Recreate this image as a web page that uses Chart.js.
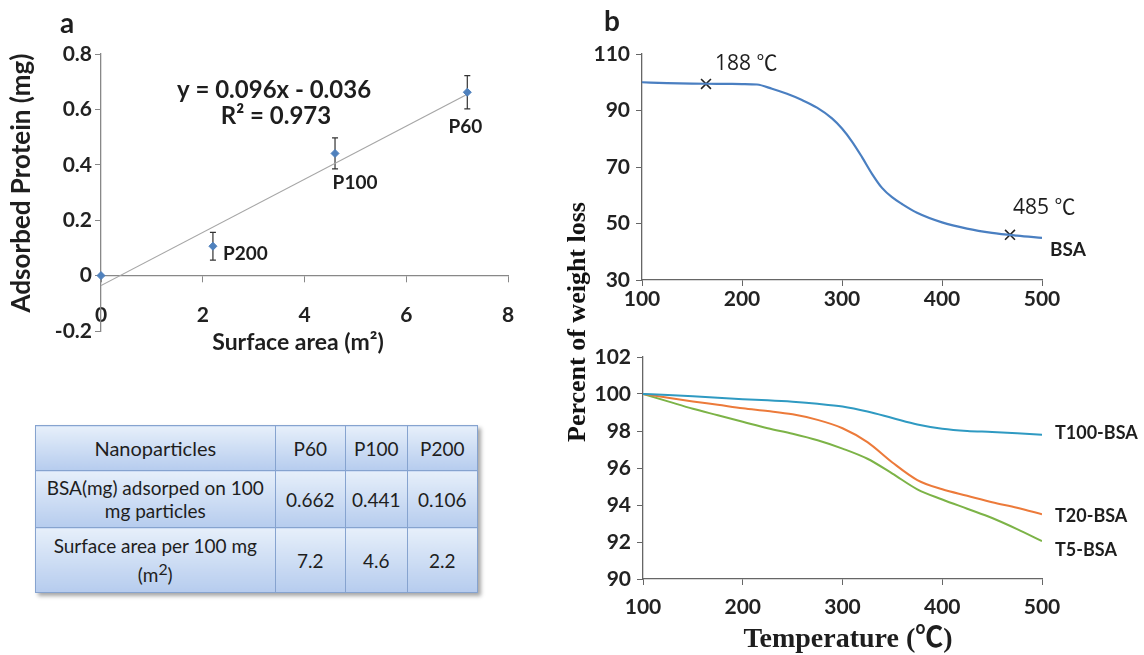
<!DOCTYPE html>
<html>
<head>
<meta charset="utf-8">
<script src="https://cdn.jsdelivr.net/npm/chart.js@4.4.1/dist/chart.umd.min.js"></script>
<style>
  body { margin: 0; background: #fff; width: 1144px; height: 655px; position: relative; overflow: hidden; }
  canvas { position: absolute; }
  #tbl { position: absolute; left: 35px; top: 425px; width: 443px; height: 167px; border-collapse: collapse;
         box-shadow: 3px 3px 4px rgba(0,0,0,0.35); font-family: Lato, "Open Sans", sans-serif; color: #1e1e1e; }
  #tbl td { border: 1px solid #86a3cf; background: linear-gradient(#e6effa, #b6ccee); text-align: center;
            font-size: 19px; line-height: 23px; padding: 0; }
  #tbl tr:first-child td:first-child { font-size: 20px; }
  #ytitle { position: absolute; left: 577px; top: 322px; transform: translate(-50%, -50%) rotate(-90deg);
            font: bold 26px "Liberation Serif", serif; white-space: nowrap; color: #111; }
</style>
</head>
<body>
<canvas id="ca" width="560" height="360" style="left:0;top:0"></canvas>
<canvas id="cb1" width="584" height="330" style="left:560px;top:0"></canvas>
<canvas id="cb2" width="584" height="325" style="left:560px;top:330px"></canvas>
<table id="tbl"></table>
<div id="ytitle">Percent of weight loss</div>
<script>
// panel a - adsorption vs surface area
var areaX = [0, 2.2, 4.6, 7.2];
var adsorbed = [0, 0.106, 0.441, 0.662];
var adsorbedErr = [0, 0.05, 0.056, 0.06];
var pointNames = ['', 'P200', 'P100', 'P60'];
var trendX = [0, 7.2];
var trendY = [-0.036, 0.655];

// table under panel a
var tableHead = ['Nanoparticles', 'P60', 'P100', 'P200'];
var rowNames = ['BSA(mg) adsorped on 100<br>mg particles', 'Surface area per 100 mg<br>(m<sup>2</sup>)'];
var bsaMg = ['0.662', '0.441', '0.106'];
var areaPer100 = ['7.2', '4.6', '2.2'];

// panel b top - BSA TGA
var bsaTemp = [100, 125, 150, 175, 200, 215, 230, 245, 260, 275, 290, 300, 310, 320, 330, 340, 350, 360, 375, 400, 425, 450, 475, 500];
var bsaWeight = [100, 99.7, 99.5, 99.45, 99.35, 99.2, 97.7, 95.9, 93.7, 91.0, 87.2, 83.6, 79.0, 73.5, 67.6, 62.6, 59.3, 56.9, 53.8, 50.4, 48.2, 46.7, 45.7, 44.9];
var markTemp = [164, 468];
var markWeight = [99.4, 46];
var markNames = ['188 \u2103', '485 \u2103'];

// panel b bottom - coated particles TGA
var tgaTemp = [100, 125, 150, 175, 200, 225, 250, 275, 300, 325, 350, 375, 400, 425, 450, 475, 500];
var t100 = [100, 99.95, 99.88, 99.8, 99.72, 99.66, 99.58, 99.47, 99.32, 99.05, 98.7, 98.35, 98.12, 98.0, 97.95, 97.88, 97.8];
var t20 = [100, 99.8, 99.6, 99.42, 99.23, 99.08, 98.9, 98.6, 98.15, 97.4, 96.3, 95.35, 94.85, 94.5, 94.15, 93.85, 93.5];
var t5 = [100, 99.6, 99.2, 98.85, 98.5, 98.15, 97.85, 97.5, 97.05, 96.5, 95.7, 94.85, 94.3, 93.8, 93.3, 92.7, 92.05];
var tgaNames = ['T100-BSA', 'T20-BSA', 'T5-BSA'];

Chart.defaults.font.family = 'Lato, "Open Sans", sans-serif';
Chart.defaults.animation = false;
Chart.defaults.plugins.legend.display = false;
Chart.defaults.plugins.tooltip.enabled = false;

function pts(xs, ys) { return xs.map(function (x, i) { return { x: x, y: ys[i] }; }); }

function txt(ctx, s, x, y, font, align, rot) {
  ctx.save();
  ctx.font = font;
  ctx.fillStyle = '#1e1e1e';
  ctx.textAlign = align || 'center';
  ctx.textBaseline = 'middle';
  ctx.translate(x, y);
  if (rot) ctx.rotate(rot);
  ctx.fillText(s, 0, 0);
  ctx.restore();
}

function axisOpts(size) {
  return {
    ticks: { font: { weight: 'bold', size: size }, color: '#222' },
    grid: { drawOnChartArea: false, tickLength: 6, color: '#666' },
    border: { color: '#666', width: 1.3 }
  };
}

// table
var tbl = document.getElementById('tbl');
var colW = [242, 70, 61, 70];
var rowH = [45, 57, 65];
var rows = [tableHead, [rowNames[0]].concat(bsaMg), [rowNames[1]].concat(areaPer100)];
rows.forEach(function (r, ri) {
  var tr = document.createElement('tr');
  tr.style.height = rowH[ri] + 'px';
  r.forEach(function (c, ci) {
    var td = document.createElement('td');
    td.style.width = colW[ci] + 'px';
    td.innerHTML = c;
    tr.appendChild(td);
  });
  tbl.appendChild(tr);
});

// ---- panel a ----
var aX = axisOpts(21), aY = axisOpts(21);
aX.type = 'linear'; aX.position = { y: 0 }; aX.min = 0; aX.max = 8;
aX.ticks.stepSize = 2; aX.ticks.padding = 21;
aX.grid.color = '#888'; aX.border.color = '#888';
aX.afterFit = function (s) { s.height = 0; };
aY.min = -0.2; aY.max = 0.8; aY.ticks.stepSize = 0.2;
aY.ticks.callback = function (v) { return String(Math.round(v * 10) / 10); };
aY.grid.color = '#888'; aY.border.color = '#888';
aY.afterFit = function (s) { s.width = 101; };

var panelA = {
  id: 'panelA',
  beforeDatasetsDraw: function (chart) {
    var ctx = chart.ctx, x = chart.scales.x, y = chart.scales.y;
    ctx.save();
    ctx.strokeStyle = '#333';
    ctx.lineWidth = 1.2;
    areaX.forEach(function (v, i) {
      if (!adsorbedErr[i]) return;
      var px = x.getPixelForValue(v);
      var t = y.getPixelForValue(adsorbed[i] + adsorbedErr[i]);
      var b = y.getPixelForValue(adsorbed[i] - adsorbedErr[i]);
      ctx.beginPath();
      ctx.moveTo(px, t); ctx.lineTo(px, b);
      ctx.moveTo(px - 3, t); ctx.lineTo(px + 3, t);
      ctx.moveTo(px - 3, b); ctx.lineTo(px + 3, b);
      ctx.stroke();
    });
    ctx.restore();
  },
  afterDraw: function (chart) {
    var ctx = chart.ctx, x = chart.scales.x, y = chart.scales.y;
    var off = [null, [10, 8, 'left'], [20, 29, 'center'], [-2, 35, 'center']];
    areaX.forEach(function (v, i) {
      if (!pointNames[i]) return;
      txt(ctx, pointNames[i], x.getPixelForValue(v) + off[i][0], y.getPixelForValue(adsorbed[i]) + off[i][1], 'bold 19px Lato', off[i][2]);
    });
    txt(ctx, 'a', 67, 24, 'bold 28px Lato');
    txt(ctx, 'y = 0.096x - 0.036', 274, 90, 'bold 24px Lato');
    txt(ctx, 'R\u00b2 = 0.973', 276, 116, 'bold 24px Lato');
    txt(ctx, 'Surface area (m\u00b2)', 298, 343, 'bold 23px Lato');
    txt(ctx, 'Adsorbed Protein (mg)', 22, 183, 'bold 26px Lato', 'center', -Math.PI / 2);
  }
};

new Chart(document.getElementById('ca'), {
  type: 'scatter',
  data: {
    datasets: [
      { type: 'line', data: pts(trendX, trendY), borderColor: '#a6a6a6', borderWidth: 1.2, pointRadius: 0, order: 2 },
      { data: pts(areaX, adsorbed), pointStyle: 'rectRot', pointRadius: 4, backgroundColor: '#4f81bd', borderColor: '#4f81bd', clip: false, order: 1 }
    ]
  },
  options: {
    responsive: false,
    layout: { padding: { left: 0, top: 54, right: 52, bottom: 29 } },
    scales: { x: aX, y: aY }
  },
  plugins: [panelA]
});

// ---- panel b top ----
var b1X = axisOpts(21), b1Y = axisOpts(21);
b1X.type = 'linear'; b1X.min = 100; b1X.max = 500; b1X.ticks.stepSize = 100; b1X.ticks.padding = 1;
b1X.afterFit = function (s) { s.height = 50; };
b1Y.min = 30; b1Y.max = 110; b1Y.ticks.stepSize = 20; b1Y.ticks.padding = 6;
b1Y.afterFit = function (s) { s.width = 82; };

var panelB1 = {
  id: 'panelB1',
  afterDraw: function (chart) {
    var ctx = chart.ctx, x = chart.scales.x, y = chart.scales.y;
    var off = [[9, -20], [3, -27]];
    markTemp.forEach(function (t, i) {
      txt(ctx, markNames[i], x.getPixelForValue(t) + off[i][0], y.getPixelForValue(markWeight[i]) + off[i][1], '21px "Open Sans", "Noto Sans CJK SC"', 'left');
    });
    var n = bsaTemp.length - 1;
    txt(ctx, 'BSA', x.getPixelForValue(bsaTemp[n]) + 8, y.getPixelForValue(bsaWeight[n]) + 12, 'bold 19px Lato', 'left');
    txt(ctx, 'b', 52, 22, 'bold 28px Lato');
  }
};

new Chart(document.getElementById('cb1'), {
  type: 'line',
  data: {
    datasets: [
      { data: pts(bsaTemp, bsaWeight), borderColor: '#4a7fc1', borderWidth: 2.2, pointRadius: 0, cubicInterpolationMode: 'monotone' },
      { data: pts(markTemp, markWeight), showLine: false, pointStyle: 'crossRot', pointRadius: 7, borderColor: '#222', borderWidth: 1.6, clip: false }
    ]
  },
  options: {
    responsive: false,
    layout: { padding: { left: 0, top: 54, right: 102, bottom: 0 } },
    scales: { x: b1X, y: b1Y }
  },
  plugins: [panelB1]
});

// ---- panel b bottom ----
var b2X = axisOpts(21), b2Y = axisOpts(21);
b2X.type = 'linear'; b2X.min = 100; b2X.max = 500; b2X.ticks.stepSize = 100; b2X.ticks.padding = 10;
b2X.afterFit = function (s) { s.height = 76; };
b2Y.min = 90; b2Y.max = 102; b2Y.ticks.stepSize = 2; b2Y.ticks.padding = 6;
b2Y.afterFit = function (s) { s.width = 83; };

var tgaSeries = [t100, t20, t5];
var panelB2 = {
  id: 'panelB2',
  afterDraw: function (chart) {
    var ctx = chart.ctx, x = chart.scales.x, y = chart.scales.y;
    var dy = [-2, 2, 9];
    var n = tgaTemp.length - 1;
    tgaSeries.forEach(function (s, i) {
      txt(ctx, tgaNames[i], x.getPixelForValue(tgaTemp[n]) + 13, y.getPixelForValue(s[n]) + dy[i], 'bold 18px Lato', 'left');
    });
    txt(ctx, 'Temperature (\u2103)', 288, 310, 'bold 28px "Liberation Serif", "Noto Sans CJK SC"');
  }
};

var tgaColors = ['#2f9ac2', '#ec7a3a', '#7cb347'];
new Chart(document.getElementById('cb2'), {
  type: 'line',
  data: {
    datasets: tgaSeries.map(function (s, i) {
      return { data: pts(tgaTemp, s), borderColor: tgaColors[i], borderWidth: 2, pointRadius: 0, cubicInterpolationMode: 'monotone' };
    })
  },
  options: {
    responsive: false,
    layout: { padding: { left: 0, top: 27, right: 102, bottom: 0 } },
    scales: { x: b2X, y: b2Y }
  },
  plugins: [panelB2]
});
</script>
</body>
</html>
